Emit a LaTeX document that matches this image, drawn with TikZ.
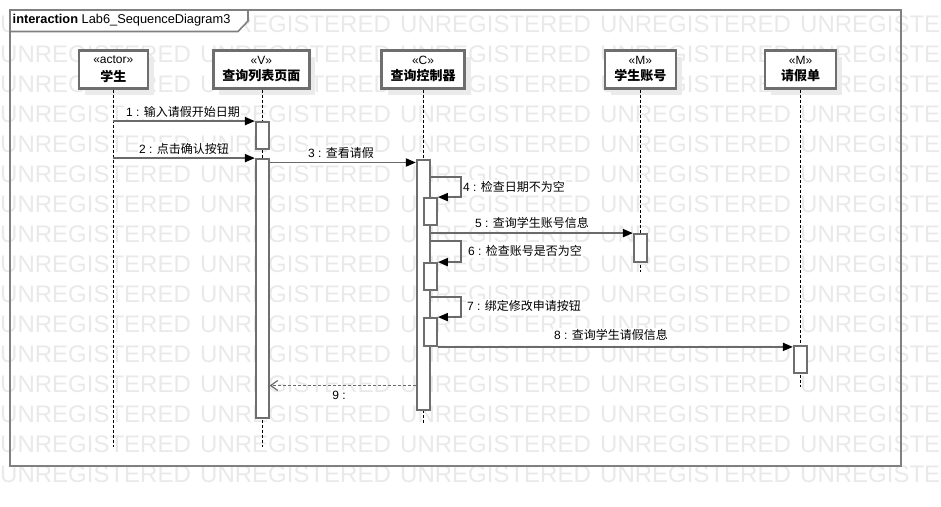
\documentclass[tikz,border=0pt]{standalone}
\usepackage{fontspec}
\setmainfont{Liberation Sans}
\newfontfamily\cjk{Noto Sans CJK SC}
\usetikzlibrary{arrows.meta,shadows}

\definecolor{frameg}{HTML}{808080}
\definecolor{boxg}{HTML}{6E6E6E}
\definecolor{lineg}{HTML}{6A6A6A}
\definecolor{wm}{HTML}{E9E9E9}
\definecolor{shad}{HTML}{EBEBEB}

\begin{document}
\begin{tikzpicture}[x=1pt,y=-1pt,
  head/.style={draw=boxg, line width=2.4pt, fill=white, minimum height=38pt, inner sep=0pt,
    general shadow={fill=shad, shadow xshift=6pt, shadow yshift=-6pt}},
  stereo/.style={inner sep=0pt, font=\fontsize{12}{14}\selectfont},
  nm/.style={inner sep=0pt, font=\fontsize{13}{15}\selectfont\cjk\bfseries},
  act/.style={draw=boxg, line width=1.8pt, fill=white, minimum width=13pt, inner sep=0pt},
  life/.style={draw=black, line width=0.9pt, dash pattern=on 3pt off 2pt},
  msg/.style={draw=lineg, line width=1.8pt, -{Triangle[length=10pt,width=8pt,black]}},
  ret/.style={draw=lineg, line width=1.8pt, dash pattern=on 3pt off 2pt,
    -{Straight Barb[length=7pt,width=10pt,line width=1.2pt]}},
  lbl/.style={fill=white, inner sep=1pt, font=\fontsize{12}{14}\selectfont},
  wmtext/.style={text=wm, font=\fontsize{24}{28}\selectfont, inner sep=0pt, anchor=base west},
]
\useasboundingbox (0,0) rectangle (941,506);
\clip (0,0) rectangle (941,506);

% watermark
\foreach \r in {0,...,15}{
  \foreach \c in {0,...,4}{
    \node[wmtext] (wm-\r-\c) at (200*\c, 32.6+30*\r) {UNREGISTERED};
  }
}

% frame and title tab
\draw[frameg, line width=2pt] (10,10) rectangle (901,466);
\draw[frameg, line width=1.6pt, fill=white] (10,10) -- (248,10) -- (248,21) -- (238,31.5) -- (10,31.5) -- cycle;
\node[anchor=west, inner sep=0pt, font=\fontsize{12.8}{15}\selectfont] (title) at (12.5,20.5)
  {\textbf{interaction} Lab6\_SequenceDiagram3};

% lifeline heads
\node[head, minimum width=69pt] (hS) at (113.3,69.5) {};
\node[head, minimum width=96pt] (hL) at (261.4,69.5) {};
\node[head, minimum width=83pt] (hC) at (423,69.5) {};
\node[head, minimum width=71pt] (hA) at (640.3,69.5) {};
\node[head, minimum width=71pt] (hQ) at (800.5,69.5) {};

\node[stereo] (sS) at (113.3,60) {«actor»};
\node[nm] (nS) at (113.3,76) {学生};
\node[stereo] (sL) at (261.4,60) {«V»};
\node[nm] (nL) at (261.4,76) {查询列表页面};
\node[stereo] (sC) at (423,60) {«C»};
\node[nm] (nC) at (423,76) {查询控制器};
\node[stereo] (sA) at (640.3,60) {«M»};
\node[nm] (nA) at (640.3,76) {学生账号};
\node[stereo] (sQ) at (800.5,60) {«M»};
\node[nm] (nQ) at (800.5,76) {请假单};

% lifeline ends
\coordinate (eS) at (113.3,447);
\coordinate (eL) at (262.3,447);
\coordinate (eC) at (423.3,423);
\coordinate (eA) at (640.3,272);
\coordinate (eQ) at (800.3,387);
\draw[life] (hS.south -| eS) -- (eS);
\draw[life] (hL.south -| eL) -- (eL);
\draw[life] (hC.south -| eC) -- (eC);
\draw[life] (hA.south -| eA) -- (eA);
\draw[life] (hQ.south -| eQ) -- (eQ);

% activations
\node[act, minimum height=27pt] (aL1) at (262.3,135.5) {};
\node[act, minimum height=259pt] (aL2) at (262.3,288.5) {};
\node[act, minimum height=250pt] (aC) at (423.3,285) {};
\node[act, minimum height=27pt] (aC1) at (430.5,211.5) {};
\node[act, minimum height=27pt] (aC2) at (430.5,276.5) {};
\node[act, minimum height=28pt] (aC3) at (430.5,332) {};
\node[act, minimum height=28pt] (aA) at (640.3,248) {};
\node[act, minimum height=27pt] (aQ) at (800.3,359.5) {};

% message levels
\coordinate (y3) at (0,162.5);
\coordinate (y4) at (0,177);
\coordinate (y6) at (0,241);
\coordinate (y7) at (0,297);
\coordinate (y9) at (0,385.5);

% messages
\draw[msg] (aL1.north west -| eS) -- (aL1.north west);
\draw[msg] (aL2.north west -| eS) -- (aL2.north west);
\draw[msg] (aL2.east |- y3) -- (aC.west |- y3);
\draw[msg] (aC.east |- y4) -- ++(30,0) |- (aC1.north east);
\draw[msg] (aC.east |- aA.north) -- (aA.north west);
\draw[msg] (aC.east |- y6) -- ++(30,0) |- (aC2.north east);
\draw[msg] (aC.east |- y7) -- ++(30,0) |- (aC3.north east);
\draw[msg] (aC3.south east) -- (aC3.south east -| aQ.west);
\draw[ret] (aC.west |- y9) -- (aL2.east |- y9);

% labels
\node[lbl] (t1) at (183,112) {1 : {\cjk 输入请假开始日期}};
\node[lbl] (t2) at (184,149) {2 : {\cjk 点击确认按钮}};
\node[lbl] (t3) at (341,153) {3 : {\cjk 查看请假}};
\node[lbl, anchor=west] (t4) at (462,187) {4 : {\cjk 检查日期不为空}};
\node[lbl] (t5) at (532,223) {5 : {\cjk 查询学生账号信息}};
\node[lbl, anchor=west] (t6) at (467,251) {6 : {\cjk 检查账号是否为空}};
\node[lbl, anchor=west] (t7) at (466,306) {7 : {\cjk 绑定修改申请按钮}};
\node[lbl] (t8) at (611,335) {8 : {\cjk 查询学生请假信息}};
\node[lbl] (t9) at (339,395) {9 :};
\end{tikzpicture}
\end{document}
